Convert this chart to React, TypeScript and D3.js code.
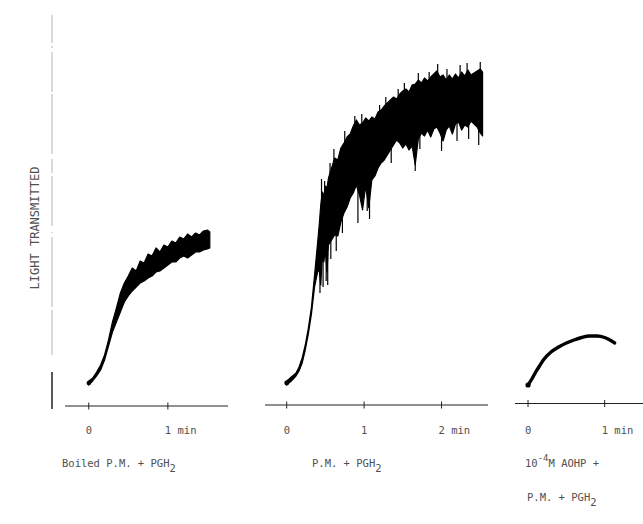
import React from "react";
import * as d3 from "d3";

const W = 643;
const H = 524;

// ---- Data (time in min, light transmitted in arbitrary chart units) ----
const yLabel = "LIGHT TRANSMITTED";

// Panel 1: Boiled P.M. + PGH2 (noisy trace -> upper / lower envelope)
const boiledTime = [0, 0.05, 0.1, 0.15, 0.2, 0.25, 0.3, 0.35, 0.4, 0.45, 0.5, 0.55, 0.6, 0.65, 0.7, 0.75, 0.8, 0.85, 0.9, 0.95, 1.0, 1.05, 1.1, 1.15, 1.2, 1.25, 1.3, 1.35, 1.4, 1.45, 1.5, 1.53];
const boiledUpper = [2.4, 2.7, 3.3, 4.0, 5.0, 6.5, 8.3, 9.7, 11.2, 12.2, 12.9, 13.7, 13.4, 14.4, 14.2, 15.1, 14.9, 15.7, 15.3, 16.0, 15.8, 16.4, 16.2, 16.8, 16.6, 17.1, 16.8, 17.2, 17.0, 17.4, 17.5, 17.3];
const boiledLower = [2.0, 2.4, 2.9, 3.5, 4.5, 5.9, 7.3, 8.3, 9.3, 10.3, 10.9, 11.4, 11.8, 12.2, 12.4, 12.7, 12.9, 13.3, 13.4, 13.7, 14.0, 14.3, 14.3, 14.7, 14.9, 14.7, 15.0, 15.3, 15.3, 15.5, 15.6, 15.7];
const boiledTicks = [0, 1];
const boiledTickLabels = ["0", "1 min"];

// Panel 2: P.M. + PGH2
const pmTime = [0, 0.06, 0.12, 0.16, 0.2, 0.24, 0.28, 0.32, 0.36, 0.4, 0.42, 0.44, 0.46, 0.48, 0.5, 0.52, 0.54, 0.58, 0.62, 0.66, 0.7, 0.74, 0.78, 0.82, 0.86, 0.9, 0.94, 0.98, 1.02, 1.06, 1.1, 1.14, 1.18, 1.22, 1.26, 1.3, 1.34, 1.38, 1.42, 1.46, 1.5, 1.54, 1.58, 1.62, 1.66, 1.7, 1.74, 1.78, 1.82, 1.86, 1.9, 1.94, 1.98, 2.02, 2.06, 2.1, 2.14, 2.18, 2.22, 2.26, 2.3, 2.34, 2.38, 2.42, 2.46, 2.5, 2.53];
const pmUpper = [2.4, 2.8, 3.2, 3.8, 4.7, 6.0, 7.7, 9.8, 13.0, 16.3, 18.0, 20.0, 21.3, 20.9, 21.9, 21.7, 22.7, 23.7, 24.7, 24.5, 25.7, 26.2, 26.8, 27.1, 27.9, 28.5, 28.0, 28.2, 28.7, 28.4, 28.8, 28.6, 29.3, 29.5, 29.9, 30.2, 30.5, 30.8, 30.6, 31.1, 31.4, 31.6, 31.3, 32.0, 32.1, 32.5, 32.2, 32.7, 32.4, 32.8, 33.1, 33.4, 32.8, 33.0, 32.5, 33.0, 32.6, 33.1, 32.7, 33.3, 32.9, 33.5, 33.0, 33.2, 33.4, 33.6, 33.3];
const pmLower = [2.0, 2.4, 2.9, 3.4, 4.2, 5.5, 7.1, 9.1, 11.8, 13.3, 13.5, 12.0, 14.7, 14.3, 15.5, 13.3, 16.0, 16.5, 17.0, 16.9, 18.3, 19.2, 19.8, 20.7, 21.2, 22.0, 21.0, 19.5, 21.9, 19.7, 22.5, 22.9, 23.7, 24.2, 24.5, 25.0, 25.5, 26.0, 26.5, 26.2, 25.7, 26.1, 25.5, 25.9, 24.0, 26.6, 27.2, 26.9, 27.5, 26.8, 27.6, 27.8, 27.2, 26.4, 27.5, 27.9, 27.1, 28.1, 28.3, 27.5, 28.0, 27.8, 28.4, 28.1, 27.8, 27.2, 26.9];
// thin noise excursions of the P.M. + PGH2 trace
const pmDownSpikeTime = [0.43, 0.47, 0.51, 0.53, 0.57, 0.64, 0.72, 0.92, 1.04, 1.07, 1.35, 1.66, 1.72, 2.0, 2.2, 2.35, 2.48];
const pmDownSpikeValue = [11.2, 11.8, 12.4, 12.0, 14.6, 15.4, 17.2, 18.2, 19.4, 18.6, 24.2, 23.4, 25.6, 25.4, 26.4, 26.6, 26.0];
const pmUpSpikeTime = [0.45, 0.49, 0.56, 0.61, 0.75, 0.88, 0.97, 1.2, 1.28, 1.44, 1.52, 1.7, 1.84, 1.95, 2.07, 2.24, 2.33, 2.5];
const pmUpSpikeValue = [22.6, 22.4, 24.2, 25.6, 27.4, 28.9, 29.1, 30.0, 30.8, 31.6, 32.2, 33.2, 33.3, 34.1, 33.6, 34.0, 34.2, 34.3];
const pmTicks = [0, 1, 2];
const pmTickLabels = ["0", "1", "2 min"];

// Panel 3: 10^-4 M AOHP + P.M. + PGH2
const aohpTime = [0, 0.05, 0.1, 0.15, 0.2, 0.3, 0.4, 0.5, 0.6, 0.7, 0.8, 0.9, 1.0, 1.08, 1.13];
const aohpValue = [2.0, 2.6, 3.3, 3.9, 4.5, 5.3, 5.8, 6.2, 6.5, 6.75, 6.9, 6.9, 6.75, 6.45, 6.2];
const aohpTicks = [0, 1];
const aohpTickLabels = ["0", "1 min"];

// ---- Layout ----
const yScale = d3.scaleLinear().domain([0, 39]).range([405, 15]);
const FONT = "'DejaVu Sans Mono', monospace";
const TEXT = "#505050";

type Panel = {
  domain: [number, number];
  range: [number, number];
  baseY: number;
  ticks: number[];
  tickLabels: string[];
};

const panels: Panel[] = [
  { domain: [-0.3, 1.76], range: [65, 228], baseY: 406, ticks: boiledTicks, tickLabels: boiledTickLabels },
  { domain: [-0.28, 2.6], range: [265, 488], baseY: 405, ticks: pmTicks, tickLabels: pmTickLabels },
  { domain: [-0.17, 1.5], range: [515, 643], baseY: 403.5, ticks: aohpTicks, tickLabels: aohpTickLabels },
];

function bandPath(x: d3.ScaleLinear<number, number>, t: number[], up: number[], lo: number[]) {
  const pts = t.map((tt, i) => ({ t: tt, u: up[i], l: lo[i] }));
  return (
    d3
      .area<{ t: number; u: number; l: number }>()
      .x((d) => x(d.t))
      .y0((d) => yScale(d.l))
      .y1((d) => yScale(d.u))
      .curve(d3.curveLinear)(pts) || ""
  );
}

export default function App() {
  const xs = panels.map((p) => d3.scaleLinear().domain(p.domain).range(p.range));
  const pmLowerAt = d3.scaleLinear().domain(pmTime).range(pmLower);
  const pmUpperAt = d3.scaleLinear().domain(pmTime).range(pmUpper);

  const trace3 =
    d3
      .line<number>()
      .x((_, i) => xs[2](aohpTime[i]))
      .y((d) => yScale(d))
      .curve(d3.curveMonotoneX)(aohpValue) || "";

  return (
    <svg
      width={W}
      height={H}
      viewBox={`0 0 ${W} ${H}`}
      style={{ position: "absolute", left: 0, top: 0, background: "#fff" }}
    >
      <rect x={0} y={0} width={W} height={H} fill="#fff" />

      {/* y axis */}
      <line x1={52} x2={52} y1={15} y2={372} stroke="#b4b4b4" strokeWidth={1} strokeDasharray="28 3 2 4 40 2 60 5 14 3 50 6 1 4 70 3 45" />
      <line x1={52} x2={52} y1={372} y2={409} stroke="#222" strokeWidth={1.5} />
      <text
        transform={`translate(35,228) rotate(-90)`}
        textAnchor="middle"
        dominantBaseline="central"
        fontFamily={FONT}
        fontSize={12}
        fill={TEXT}
      >
        {yLabel}
      </text>

      {/* baselines and ticks */}
      {panels.map((p, pi) => (
        <g key={pi}>
          <line x1={p.range[0]} x2={p.range[1]} y1={p.baseY} y2={p.baseY} stroke="#222" strokeWidth={1.2} />
          {p.ticks.map((t, ti) => (
            <g key={ti}>
              <line x1={xs[pi](t)} x2={xs[pi](t)} y1={p.baseY - 3.5} y2={p.baseY + 3.5} stroke="#222" strokeWidth={1} />
              <text x={xs[pi](t) - 3} y={434} fontFamily={FONT} fontSize={10.5} fill={TEXT}>
                {p.tickLabels[ti]}
              </text>
            </g>
          ))}
        </g>
      ))}

      {/* traces */}
      <path d={bandPath(xs[0], boiledTime, boiledUpper, boiledLower)} fill="#000" stroke="#000" strokeWidth={1.2} strokeLinejoin="round" />
      <circle cx={xs[0](boiledTime[0])} cy={yScale((boiledUpper[0] + boiledLower[0]) / 2)} r={2.2} fill="#000" />

      <path d={bandPath(xs[1], pmTime, pmUpper, pmLower)} fill="#000" stroke="#000" strokeWidth={1.2} strokeLinejoin="round" />
      {pmDownSpikeTime.map((t, i) => (
        <line
          key={`d${i}`}
          x1={xs[1](t)}
          x2={xs[1](t)}
          y1={yScale(pmLowerAt(t) + 0.5)}
          y2={yScale(pmDownSpikeValue[i])}
          stroke="#000"
          strokeWidth={1.2}
        />
      ))}
      {pmUpSpikeTime.map((t, i) => (
        <line
          key={`u${i}`}
          x1={xs[1](t)}
          x2={xs[1](t)}
          y1={yScale(pmUpperAt(t) - 0.5)}
          y2={yScale(pmUpSpikeValue[i])}
          stroke="#000"
          strokeWidth={1.2}
        />
      ))}
      <circle cx={xs[1](pmTime[0])} cy={yScale((pmUpper[0] + pmLower[0]) / 2)} r={2.4} fill="#000" />

      <path d={trace3} fill="none" stroke="#000" strokeWidth={3.4} strokeLinecap="round" />
      <circle cx={xs[2](aohpTime[0])} cy={yScale(aohpValue[0])} r={2.6} fill="#000" />

      {/* condition labels */}
      <text x={62} y={467} fontFamily={FONT} fontSize={10.5} fill={TEXT}>
        Boiled P.M. + PGH<tspan dy={5}>2</tspan>
      </text>
      <text x={312} y={467} fontFamily={FONT} fontSize={10.5} fill={TEXT}>
        P.M. + PGH<tspan dy={5}>2</tspan>
      </text>
      <text x={525} y={467} fontFamily={FONT} fontSize={10.5} fill={TEXT}>
        10<tspan dy={-6} fontSize={9}>-4</tspan>
        <tspan dy={6}>M AOHP +</tspan>
      </text>
      <text x={527} y={501} fontFamily={FONT} fontSize={10.5} fill={TEXT}>
        P.M. + PGH<tspan dy={5}>2</tspan>
      </text>
    </svg>
  );
}
